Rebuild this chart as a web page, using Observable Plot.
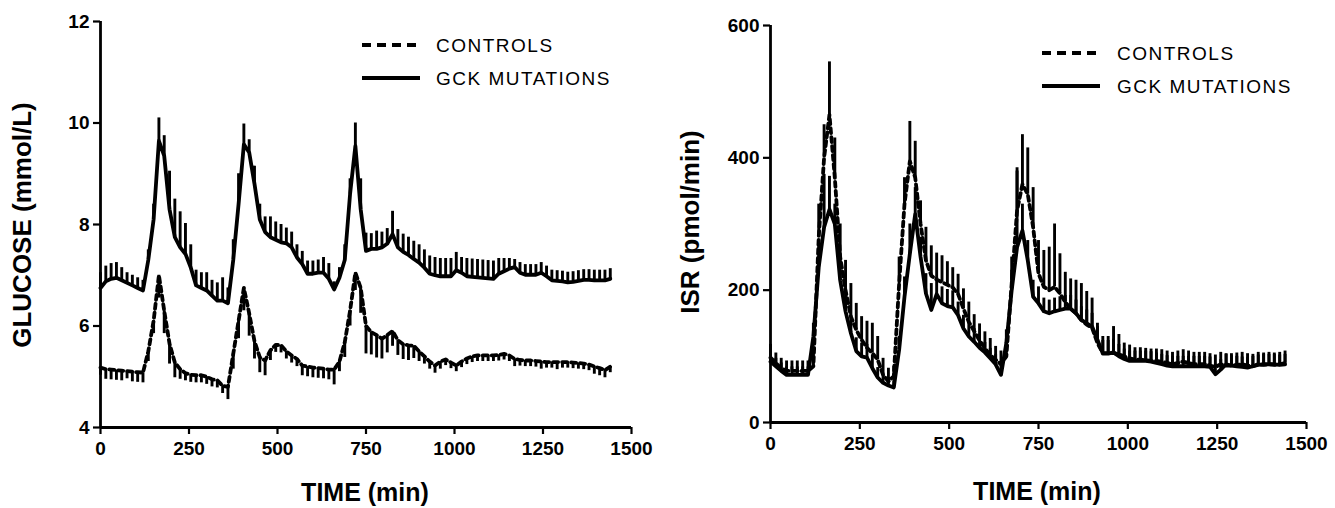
<!DOCTYPE html>
<html><head><meta charset="utf-8">
<script src="https://cdn.jsdelivr.net/npm/d3@7"></script>
<script src="https://cdn.jsdelivr.net/npm/@observablehq/plot@0.6"></script>
<style>
body{margin:0;background:#fff;}
#wrap{position:relative;width:1335px;height:508px;overflow:hidden;background:#fff;}
.panel{position:absolute;top:0;}
.panel svg{overflow:visible;}
</style></head><body><div id="wrap"></div>
<script>
// Sampling times (min)
const times = [0,15,30,45,60,75,90,105,120,135,150,165,180,195,210,225,240,255,270,285,300,315,330,345,
360,375,390,405,420,435,450,465,480,495,510,525,540,555,570,585,600,615,630,645,660,675,690,705,
720,735,750,765,780,795,810,825,840,855,870,885,900,915,930,945,960,975,990,1005,1020,1035,1050,1065,
1080,1095,1110,1125,1140,1155,1170,1185,1200,1215,1230,1245,1260,1275,1290,1305,1320,1335,1350,1365,
1380,1395,1410,1425,1440];

// Glucose (mmol/L)
const glucoseGck = [6.75,6.88,6.93,6.95,6.90,6.85,6.80,6.75,
6.70,7.30,8.10,9.65,9.35,8.30,7.75,7.55,
7.42,7.15,6.80,6.75,6.70,6.60,6.50,6.50,
6.45,7.30,8.40,9.58,9.42,8.80,8.10,7.85,
7.75,7.70,7.65,7.63,7.55,7.35,7.22,7.03,
7.03,7.05,7.05,6.93,6.72,6.95,7.30,8.60,
9.55,8.30,7.48,7.52,7.52,7.55,7.62,7.81,
7.55,7.46,7.40,7.32,7.25,7.15,7.03,7.00,
6.98,6.98,6.98,7.10,7.05,6.98,6.97,6.96,
6.95,6.94,6.93,7.03,7.08,7.13,7.16,7.05,
7.01,7.01,7.01,7.05,6.98,6.90,6.89,6.88,
6.86,6.87,6.89,6.91,6.91,6.90,6.90,6.90,
6.93];
const glucoseGckSem = [.30,.30,.30,.30,.25,.20,.20,.20,
.20,.20,.30,.45,.40,.75,.75,.70,
.60,.45,.30,.30,.35,.30,.35,.45,
.30,.40,.60,.40,.25,.35,.30,.30,
.40,.35,.35,.30,.30,.25,.25,.25,
.25,.25,.30,.30,.15,.20,.30,.30,
.45,.60,.35,.30,.35,.30,.30,.45,
.35,.35,.35,.35,.35,.35,.35,.35,
.35,.35,.35,.35,.30,.35,.35,.35,
.35,.35,.35,.30,.25,.20,.15,.20,
.20,.20,.20,.20,.20,.20,.20,.20,
.20,.20,.20,.20,.20,.20,.20,.20,
.20];
const glucoseControls = [5.18,5.15,5.14,5.13,5.12,5.11,5.10,5.09,
5.08,5.50,6.10,7.00,6.30,5.65,5.28,5.15,
5.07,5.04,5.03,5.03,5.00,4.95,4.93,4.82,
4.80,5.45,6.10,6.75,6.25,5.70,5.38,5.32,
5.52,5.63,5.62,5.50,5.42,5.35,5.22,5.20,
5.18,5.17,5.16,5.14,5.14,5.30,5.68,6.30,
7.05,6.75,6.00,5.88,5.82,5.75,5.82,5.90,
5.72,5.64,5.62,5.61,5.50,5.40,5.30,5.22,
5.30,5.34,5.28,5.22,5.30,5.36,5.40,5.42,
5.42,5.42,5.42,5.43,5.45,5.42,5.35,5.33,
5.32,5.32,5.31,5.30,5.29,5.29,5.29,5.29,
5.29,5.28,5.27,5.26,5.24,5.20,5.17,5.13,
5.20];
const glucoseControlsSem = [.15,.20,.20,.20,.20,.15,.20,.20,
.20,.20,.25,.45,.45,.40,.30,.20,
.15,.15,.15,.15,.15,.15,.15,.15,
.25,.30,.35,.45,.45,.35,.30,.30,
.20,.15,.15,.15,.15,.15,.20,.20,
.20,.20,.20,.20,.30,.20,.30,.30,
.35,.50,.55,.45,.45,.40,.35,.30,
.30,.30,.30,.25,.20,.15,.15,.15,
.15,.12,.12,.12,.12,.12,.12,.12,
.12,.12,.12,.12,.12,.12,.15,.12,
.12,.12,.12,.15,.12,.12,.15,.12,
.12,.12,.12,.12,.12,.15,.15,.15,
.12];

// Insulin secretion rate (pmol/min)
const isrControls = [98,90,82,78,78,78,78,78,
85,280,400,465,370,250,200,160,
140,125,113,105,95,72,62,70,
210,330,395,370,300,245,222,216,
212,208,204,194,172,152,138,124,
112,102,95,88,100,210,320,360,
345,295,225,205,200,205,195,182,
172,165,155,148,143,120,105,105,
105,103,100,97,95,95,94,93,
93,92,90,88,90,92,90,88,
88,88,86,84,88,86,86,87,
88,86,85,88,87,88,87,88,
90];
const isrControlsSem = [20,15,15,15,15,15,15,15,
20,50,50,80,60,50,45,50,
40,35,40,45,35,25,20,15,
40,40,60,55,35,50,45,40,
40,35,30,30,30,30,25,25,
25,25,20,20,20,40,60,75,
70,60,50,55,65,95,60,45,
45,50,55,50,45,30,25,25,
40,30,20,20,18,18,18,18,
18,18,18,18,18,18,18,18,
18,18,18,18,18,18,18,18,
18,18,18,18,18,18,18,18,
18];
const isrGck = [92,85,78,72,72,72,72,72,
130,235,295,322,300,215,168,135,
108,100,98,82,68,60,56,53,
110,190,255,315,250,195,170,194,
180,176,174,162,142,130,122,113,
106,97,88,72,120,200,265,290,
245,190,180,168,165,168,170,172,
172,165,155,150,145,125,104,104,
106,100,96,93,93,93,93,92,
90,88,86,85,85,85,85,85,
85,85,84,73,80,88,86,85,
84,83,85,87,88,88,88,87,
88];
const isrGckSem = [15,12,12,12,12,12,12,12,
20,40,80,50,30,35,30,25,
20,20,20,20,15,12,12,10,
20,30,45,40,30,30,40,25,
25,25,25,20,20,20,20,20,
15,15,15,15,20,30,120,40,
30,25,25,20,20,20,20,20,
20,20,20,20,20,20,20,20,
20,18,15,15,15,15,15,15,
15,15,15,15,15,15,15,15,
15,15,15,15,15,15,15,15,
15,15,15,15,15,15,15,15,
15];

const xTicks = [0,250,500,750,1000,1250,1500];
const glucoseTicks = [4,6,8,10,12];
const isrTicks = [0,200,400,600];
const legendLabels = ["CONTROLS","GCK MUTATIONS"];

const FONT = '"Liberation Sans", Arial, Helvetica, sans-serif';
const rows = (vals, errs) => times.map((t, i) => ({t, v: vals[i], e: errs[i]}));

function panel({ctl, gck, yDomain, yTicks, ctlDir, gckDir, width, mL, mR, mT, mB}) {
  return Plot.plot({
    width, height: 508,
    marginLeft: mL, marginRight: mR, marginTop: mT, marginBottom: mB,
    x: {domain: [0, 1500]},
    y: {domain: yDomain},
    style: {fontFamily: FONT, fontSize: "19px", fontWeight: "bold", color: "#000", background: "#fff"},
    marks: [
      Plot.axisX({ticks: xTicks, tickSize: 7, tickPadding: 7, strokeWidth: 2.2, label: null, tickFormat: d3.format("d")}),
      Plot.axisY({ticks: yTicks, tickSize: 7, tickPadding: 4, strokeWidth: 2.2, label: null, tickFormat: d3.format("d")}),
      Plot.ruleY([yDomain[0]], {stroke: "#000", strokeWidth: 2.8}),
      Plot.ruleX([0], {stroke: "#000", strokeWidth: 2.8}),
      Plot.ruleX(ctl, {x: "t", y1: "v", y2: d => d.v + ctlDir * d.e, stroke: "#000", strokeWidth: 2.9}),
      Plot.ruleX(gck, {x: "t", y1: "v", y2: d => d.v + gckDir * d.e, stroke: "#000", strokeWidth: 2.9}),
      Plot.lineY(ctl, {x: "t", y: "v", stroke: "#000", strokeWidth: 3.8, strokeDasharray: "5,4"}),
      Plot.lineY(gck, {x: "t", y: "v", stroke: "#000", strokeWidth: 3.8, strokeLinejoin: "round"})
    ]
  });
}

const wrap = document.getElementById("wrap");

const left = panel({
  ctl: rows(glucoseControls, glucoseControlsSem),
  gck: rows(glucoseGck, glucoseGckSem),
  yDomain: [4, 12], yTicks: glucoseTicks, ctlDir: -1, gckDir: 1,
  width: 667, mL: 100, mR: 36, mT: 21, mB: 81
});
const leftDiv = document.createElement("div");
leftDiv.className = "panel"; leftDiv.style.left = "0px";
leftDiv.appendChild(left); wrap.appendChild(leftDiv);

const right = panel({
  ctl: rows(isrControls, isrControlsSem),
  gck: rows(isrGck, isrGckSem),
  yDomain: [0, 600], yTicks: isrTicks, ctlDir: 1, gckDir: 1,
  width: 668, mL: 103, mR: 29, mT: 25, mB: 86
});
const rightDiv = document.createElement("div");
rightDiv.className = "panel"; rightDiv.style.left = "667px";
rightDiv.appendChild(right); wrap.appendChild(rightDiv);

// Titles and legends
const ns = "http://www.w3.org/2000/svg";
const ann = document.createElementNS(ns, "svg");
ann.setAttribute("width", 1335); ann.setAttribute("height", 508);
ann.style.position = "absolute"; ann.style.left = "0"; ann.style.top = "0";
ann.style.pointerEvents = "none";
wrap.appendChild(ann);

function txt(s, x, y, opts = {}) {
  const t = document.createElementNS(ns, "text");
  t.textContent = s;
  t.setAttribute("x", x); t.setAttribute("y", y);
  t.setAttribute("font-family", FONT);
  t.setAttribute("font-size", opts.size || 25);
  t.setAttribute("font-weight", opts.weight || "bold");
  t.setAttribute("text-anchor", opts.anchor || "middle");
  t.setAttribute("dominant-baseline", "central");
  if (opts.ls) t.setAttribute("letter-spacing", opts.ls);
  if (opts.rotate) t.setAttribute("transform", `rotate(-90 ${x} ${y})`);
  ann.appendChild(t);
}
function seg(x1, x2, y, dash) {
  const l = document.createElementNS(ns, "line");
  l.setAttribute("x1", x1); l.setAttribute("x2", x2);
  l.setAttribute("y1", y); l.setAttribute("y2", y);
  l.setAttribute("stroke", "#000"); l.setAttribute("stroke-width", 3.8);
  if (dash) l.setAttribute("stroke-dasharray", dash);
  ann.appendChild(l);
}

txt("GLUCOSE (mmol/L)", 22, 225, {rotate: true, size: 26});
txt("TIME (min)", 365, 492);
txt("ISR (pmol/min)", 690, 222, {rotate: true, size: 26});
txt("TIME (min)", 1037, 491);

const lg = {size: 19, weight: "normal", anchor: "start", ls: 1.5};
seg(362, 420, 45, "9,6"); txt(legendLabels[0], 436, 45, lg);
seg(362, 420, 78);        txt(legendLabels[1], 436, 78, lg);
seg(1042, 1100, 53, "9,6"); txt(legendLabels[0], 1117, 53, lg);
seg(1042, 1100, 86);        txt(legendLabels[1], 1117, 86, lg);
</script>
</body></html>
